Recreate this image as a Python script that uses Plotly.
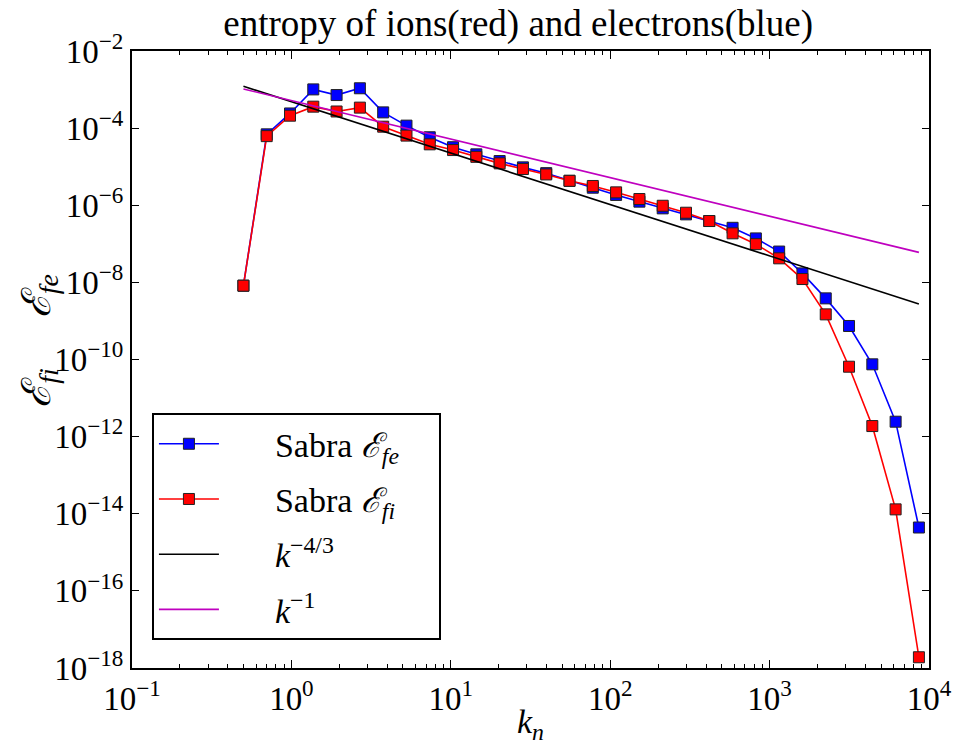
import plotly.graph_objects as go

# shell wavenumbers k_n
k_n = [0.5, 0.7, 0.98, 1.372, 1.921, 2.689, 3.765, 5.271, 7.379, 10.33,
       14.46, 20.25, 28.35, 39.69, 55.57, 77.79, 108.9, 152.5, 213.5, 298.9,
       418.4, 585.8, 820.1, 1148, 1607, 2250, 3150, 4410, 6174, 8644]

# electron entropy spectrum (blue)
E_fe = [8.2e-9, 6.9e-5, 2.4e-4, 1.01e-3, 7.2e-4, 1.08e-3, 2.56e-4, 1.16e-4, 5.8e-5, 3.2e-5,
        2.09e-5, 1.4e-5, 9.6e-6, 6.8e-6, 4.3e-6, 2.85e-6, 1.85e-6, 1.24e-6, 8.3e-7, 5.8e-7,
        3.9e-7, 2.6e-7, 1.38e-7, 6.3e-8, 1.71e-8, 3.85e-9, 7.4e-10, 7.5e-11, 2.44e-12, 4.4e-15]

# ion entropy spectrum (red)
E_fi = [8.2e-9, 6.2e-5, 2.1e-4, 3.6e-4, 2.7e-4, 3.4e-4, 1.09e-4, 6.4e-5, 3.8e-5, 2.7e-5,
        1.8e-5, 1.22e-5, 8.7e-6, 6.3e-6, 4.3e-6, 3.16e-6, 2.16e-6, 1.45e-6, 9.7e-7, 6.4e-7,
        3.9e-7, 1.87e-7, 9.8e-8, 4.2e-8, 1.22e-8, 1.48e-9, 6.5e-11, 1.88e-12, 1.3e-14, 1.9e-18]

# reference power-law lines (end points)
ref_k = [0.5, 8644]
ref_k43 = [1.22e-3, 2.74e-9]
ref_k1 = [1.04e-3, 6.0e-8]

x_exps = [-1, 0, 1, 2, 3, 4]
y_exps = [-2, -4, -6, -8, -10, -12, -14, -16, -18]


def pow_label(e):
    s = str(e).replace("-", "−")
    return "10<sup>" + s + "</sup>"


SERIF = "Liberation Serif, Times New Roman, DejaVu Serif, serif"
PAD = "&nbsp;" * 6
TAIL = "&nbsp;" * 4

fig = go.Figure()
fig.add_trace(go.Scatter(
    x=k_n, y=E_fe, mode="lines+markers", name=PAD + "Sabra <i>ℰ<sub>fe</sub></i>" + TAIL,
    line=dict(color="#0000ff", width=1.6),
    marker=dict(symbol="square", size=11, color="#0000ff", line=dict(color="#222", width=1)),
    legendgroup="a"))
fig.add_trace(go.Scatter(
    x=k_n, y=E_fi, mode="lines+markers", name=PAD + "Sabra <i>ℰ<sub>fi</sub></i>",
    line=dict(color="#ff0000", width=1.6),
    marker=dict(symbol="square", size=11, color="#ff0000", line=dict(color="#222", width=1)),
    legendgroup="b"))
fig.add_trace(go.Scatter(
    x=ref_k, y=ref_k43, mode="lines", name=PAD + "<i>k</i><sup>−4/3</sup>",
    line=dict(color="#000000", width=1.6), legendgroup="c"))
fig.add_trace(go.Scatter(
    x=ref_k, y=ref_k1, mode="lines", name=PAD + "<i>k</i><sup>−1</sup>",
    line=dict(color="#bf00bf", width=1.6), legendgroup="d"))

axis_common = dict(
    showline=True, linecolor="black", linewidth=2, mirror="allticks",
    ticks="inside", tickcolor="black", tickwidth=1.3,
    showgrid=False, zeroline=False, automargin=False,
    tickfont=dict(family=SERIF, size=33, color="black"),
)

fig.update_xaxes(
    type="log", range=[-1, 4], tickmode="array",
    tickvals=[10 ** v for v in x_exps], ticktext=[pow_label(v) for v in x_exps], ticklen=8,
    minor=dict(ticks="inside", ticklen=4, tickcolor="black", dtick="D1", showgrid=False),
    title=dict(text="<i>k<sub>n</sub></i>", font=dict(family=SERIF, size=34, color="black"), standoff=0),
    **axis_common)
fig.update_yaxes(
    type="log", range=[-18, -2], tickmode="array",
    tickvals=[10 ** v for v in y_exps], ticktext=[pow_label(v) for v in y_exps], ticklen=7,
    **axis_common)

# y-axis title placed as a rotated annotation
fig.add_annotation(
    text="<i>ℰ<sub>fi</sub>&nbsp;&nbsp;&nbsp;&nbsp;&nbsp;ℰ<sub>fe</sub></i>",
    textangle=-90, xref="paper", yref="paper", x=-0.117, y=0.53,
    xanchor="center", yanchor="middle", showarrow=False,
    font=dict(family=SERIF, size=40, color="black"))

fig.update_layout(
    width=956, height=745,
    margin=dict(l=132, r=27, t=51, b=77),
    paper_bgcolor="white", plot_bgcolor="white",
    title=dict(text="entropy of ions(red) and electrons(blue)", x=0.542, xanchor="center",
               y=0.987, yanchor="top",
               font=dict(family=SERIF, size=37, color="black")),
    legend=dict(x=0.025, y=0.413, xanchor="left", yanchor="top",
                bgcolor="white", bordercolor="black", borderwidth=2,
                font=dict(family=SERIF, size=34, color="black"),
                tracegroupgap=8, itemwidth=60),
    showlegend=True,
)

fig.write_html("out.html")
